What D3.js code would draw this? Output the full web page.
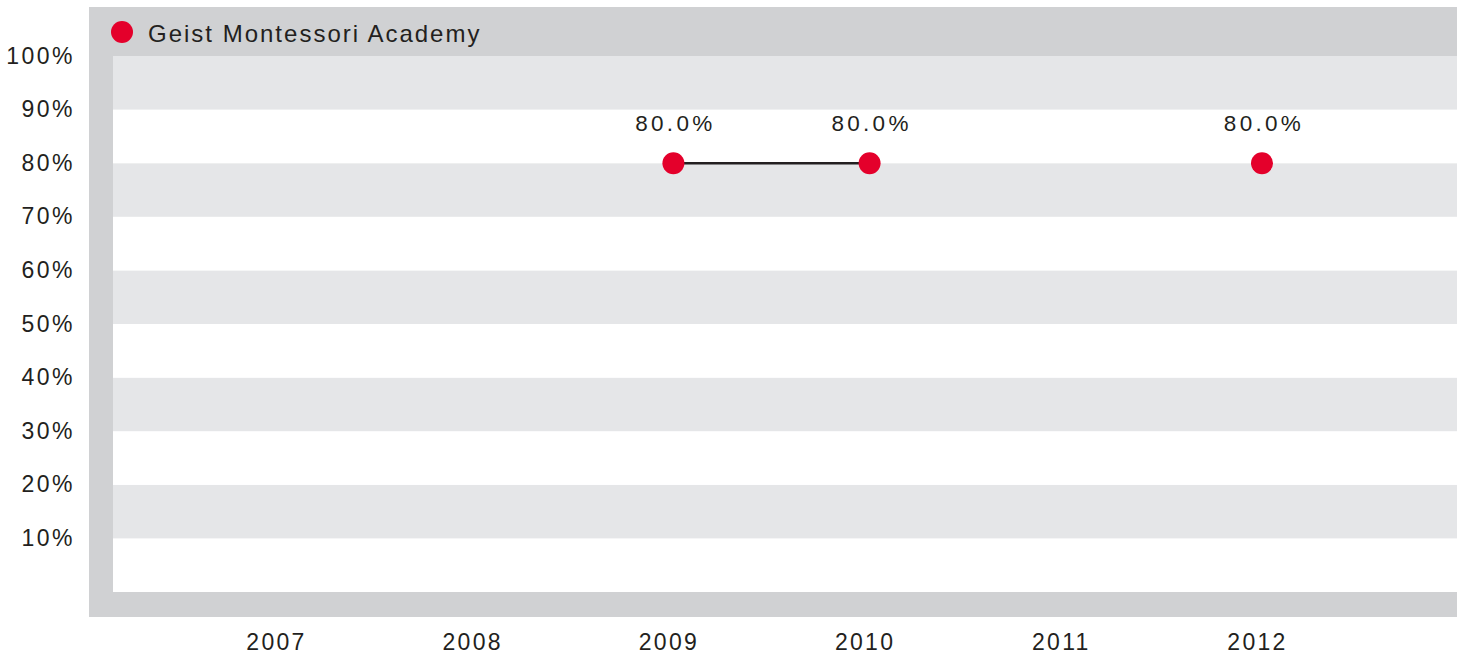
<!DOCTYPE html>
<html>
<head>
<meta charset="utf-8">
<script src="https://cdn.jsdelivr.net/npm/d3@7"></script>
<style>
  html, body { margin: 0; padding: 0; background: #ffffff; }
  svg { display: block; }
  text { font-family: "Liberation Sans", Arial, Helvetica, sans-serif; fill: #231f20; }
</style>
</head>
<body>
<svg id="chart" width="1463" height="656"></svg>
<script>
// ---- data ----
const years = [2007, 2008, 2009, 2010, 2011, 2012];
const seriesName = "Geist Montessori Academy";
const seriesValues = [null, null, 80.0, 80.0, null, 80.0];
const yTickValues = [10, 20, 30, 40, 50, 60, 70, 80, 90, 100];
const yTickLabels = ["10%", "20%", "30%", "40%", "50%", "60%", "70%", "80%", "90%", "100%"];
const bandStarts = [0, 10, 20, 30, 40, 50, 60, 70, 80, 90];

// ---- layout ----
const frame = { left: 89, top: 7, right: 1457, bottom: 617 };
const plot = { left: 113, top: 56, right: 1457, bottom: 592 };
const red = "#e4002b";
const frameGray = "#d0d1d3";
const bandGray = "#e5e6e8";
const ink = "#231f20";

const svg = d3.select("#chart");

const x = d3.scaleLinear().domain([2007, 2012]).range([281, 1262]);
const y = d3.scaleLinear().domain([0, 100]).range([plot.bottom, plot.top]);

// frame
svg.append("rect")
  .attr("x", frame.left).attr("y", frame.top)
  .attr("width", frame.right - frame.left).attr("height", frame.bottom - frame.top)
  .attr("fill", frameGray);
svg.append("rect")
  .attr("x", plot.left).attr("y", plot.top)
  .attr("width", plot.right - plot.left).attr("height", plot.bottom - plot.top)
  .attr("fill", "#ffffff");

// alternating bands
svg.append("g").selectAll("rect")
  .data(bandStarts)
  .join("rect")
  .attr("x", plot.left)
  .attr("width", plot.right - plot.left)
  .attr("y", d => y(d + 10))
  .attr("height", d => y(d) - y(d + 10))
  .attr("fill", (d, i) => (i % 2 === 1 ? bandGray : "#ffffff"));

// y axis labels
const yAxis = d3.axisLeft(y).tickValues(yTickValues)
  .tickFormat((d, i) => yTickLabels[i]).tickSize(0).tickPadding(0);
const gy = svg.append("g").attr("transform", "translate(73,0)").call(yAxis);
gy.select(".domain").remove();
gy.selectAll("text")
  .attr("font-size", 23).attr("letter-spacing", 2.5)
  .attr("fill", ink).attr("dy", "0.35em")
  .attr("font-family", "'Liberation Sans', Arial, sans-serif")
  .attr("transform", "translate(2,-1)");

// x axis labels
const xAxis = d3.axisBottom(x).tickValues(years).tickFormat(d3.format("d")).tickSize(0).tickPadding(0);
const gx = svg.append("g").attr("transform", "translate(-5,634)").call(xAxis);
gx.select(".domain").remove();
gx.selectAll("text")
  .attr("font-size", 23).attr("letter-spacing", 2.3)
  .attr("fill", ink).attr("dy", "0.71em")
  .attr("font-family", "'Liberation Sans', Arial, sans-serif");

// line
const pts = years.map((yr, i) => ({ year: yr, value: seriesValues[i] }));
const line = d3.line()
  .defined(d => d.value !== null)
  .x(d => x(d.year))
  .y(d => y(d.value));
svg.append("path")
  .datum(pts)
  .attr("d", line)
  .attr("fill", "none")
  .attr("stroke", ink)
  .attr("stroke-width", 2.5);

const valid = pts.filter(d => d.value !== null);

// points
svg.append("g").selectAll("circle")
  .data(valid)
  .join("circle")
  .attr("cx", d => x(d.year))
  .attr("cy", d => y(d.value))
  .attr("r", 11)
  .attr("fill", red);

// value labels
svg.append("g").selectAll("text")
  .data(valid)
  .join("text")
  .attr("x", d => x(d.year) + 2)
  .attr("y", d => y(d.value) - 32)
  .attr("text-anchor", "middle")
  .attr("font-size", 22.5)
  .attr("letter-spacing", 3.3)
  .text(d => d.value.toFixed(1) + "%");

// legend
svg.append("circle").attr("cx", 122).attr("cy", 32).attr("r", 11).attr("fill", red);
svg.append("text")
  .attr("x", 148).attr("y", 41.5)
  .attr("font-size", 24).attr("letter-spacing", 2)
  .text(seriesName);
</script>
</body>
</html>
